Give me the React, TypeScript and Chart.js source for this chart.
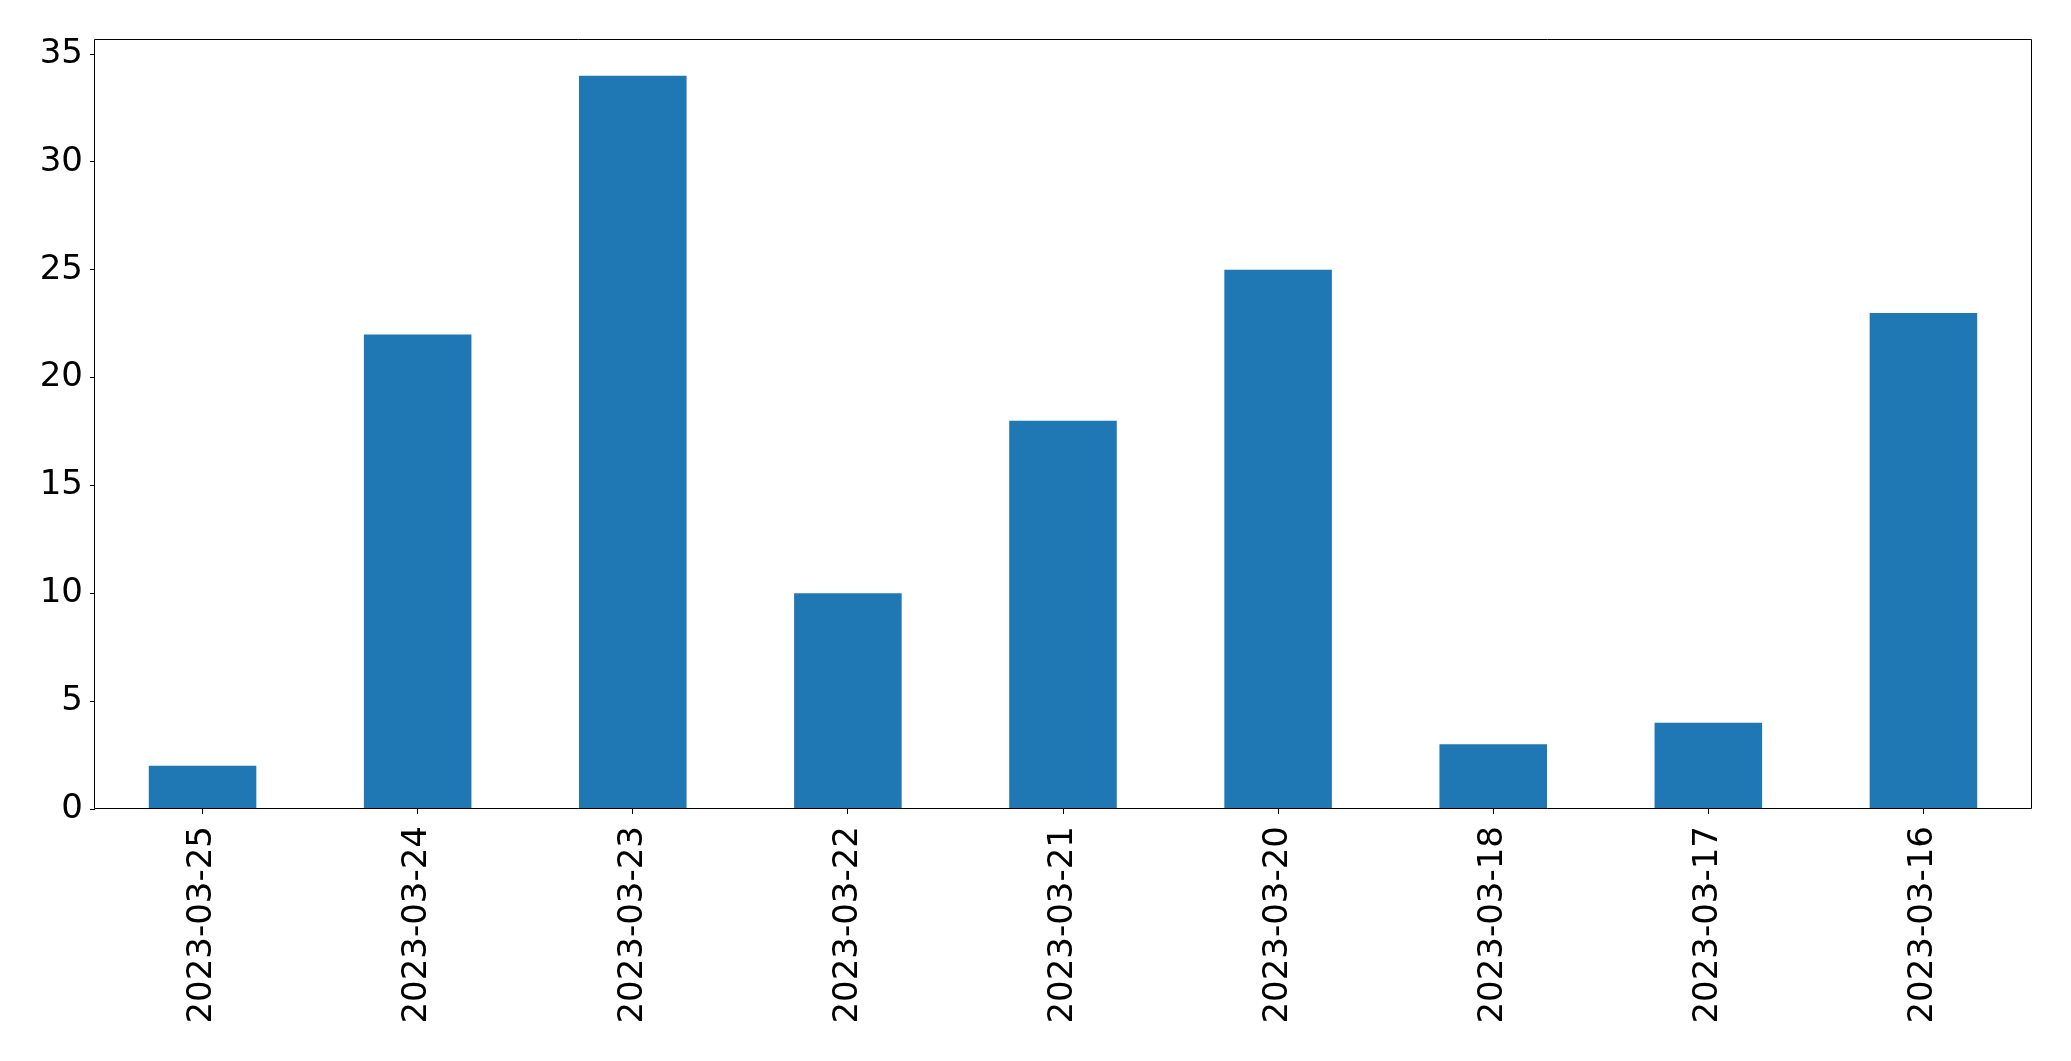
import React, { useEffect, useRef } from "react";
import { Chart, registerables } from "chart.js";

Chart.register(...registerables);

const CATEGORIES = [
  "2023-03-25",
  "2023-03-24",
  "2023-03-23",
  "2023-03-22",
  "2023-03-21",
  "2023-03-20",
  "2023-03-18",
  "2023-03-17",
  "2023-03-16",
];
const VALUES = [2, 22, 34, 10, 18, 25, 3, 4, 23];
const Y_TICKS = [0, 5, 10, 15, 20, 25, 30, 35];
const Y_MAX = 35.7;

const W = 2071;
const H = 1061;

const frame = {
  id: "frame",
  afterDraw(chart: any) {
    const { ctx, chartArea } = chart;
    const l = Math.round(chartArea.left) - 0.5;
    const t = Math.round(chartArea.top) + 0.5;
    const r = Math.round(chartArea.right) + 0.5;
    const b = Math.round(chartArea.bottom) - 0.5;
    ctx.save();
    ctx.strokeStyle = "#000";
    ctx.lineWidth = 1;
    ctx.beginPath();
    ctx.moveTo(l, t);
    ctx.lineTo(r, t);
    ctx.lineTo(r, b);
    ctx.lineTo(l, b);
    ctx.closePath();
    ctx.stroke();
    ctx.restore();
  },
};

export default function App() {
  const ref = useRef<HTMLCanvasElement>(null);
  useEffect(() => {
    const font = { family: "DejaVu Sans", size: 34 };
    const chart = new Chart(ref.current as HTMLCanvasElement, {
      type: "bar",
      data: {
        labels: CATEGORIES,
        datasets: [
          {
            data: VALUES,
            backgroundColor: "#1f77b4",
            categoryPercentage: 1,
            barPercentage: 0.5,
          },
        ],
      },
      options: {
        responsive: false,
        animation: false,
        devicePixelRatio: 1,
        layout: { padding: { top: 39, right: 40, left: 0, bottom: 0 } },
        plugins: { legend: { display: false }, tooltip: { enabled: false } },
        scales: {
          x: {
            offset: true,
            grid: { display: true, offset: false, drawOnChartArea: false, drawTicks: true, tickLength: 5, color: "#000", lineWidth: 1 },
            border: { display: false },
            ticks: { color: "#000", font, minRotation: 90, maxRotation: 90, padding: 12, autoSkip: false },
            afterFit: (s: any) => {
              s.height = 252;
            },
          },
          y: {
            min: 0,
            max: Y_MAX,
            grid: { display: true, drawOnChartArea: false, drawTicks: true, tickLength: 5, color: "#000", lineWidth: 1 },
            border: { display: false },
            ticks: { color: "#000", font, padding: 7 },
            afterBuildTicks: (s: any) => {
              s.ticks = Y_TICKS.map((v) => ({ value: v }));
            },
            afterFit: (s: any) => {
              s.width = 95;
            },
          },
        },
      },
      plugins: [frame],
    });
    return () => chart.destroy();
  }, []);
  return (
    <div style={{ position: "fixed", left: 0, top: 0, width: W, height: H, background: "#fff" }}>
      <canvas ref={ref} width={W} height={H} style={{ width: W, height: H }} />
    </div>
  );
}
